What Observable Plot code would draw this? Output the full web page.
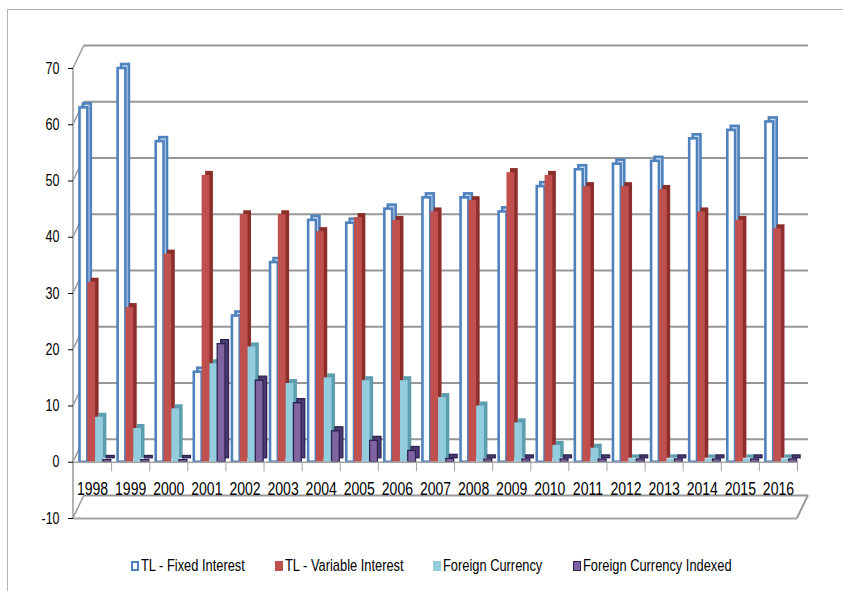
<!DOCTYPE html>
<html><head><meta charset="utf-8">
<script src="https://cdn.jsdelivr.net/npm/d3@7"></script>
<script src="https://cdn.jsdelivr.net/npm/@observablehq/plot@0.6"></script>
<style>
body{margin:0;background:#fff;font-family:"Liberation Sans",Arial,sans-serif;}
#wrap{position:relative;width:843px;height:591px;overflow:hidden;background:#fff;}
#border{position:absolute;left:7px;top:9px;width:900px;height:700px;border-left:1px solid #b4b4b4;border-top:1px solid #b4b4b4;}
#chart{position:absolute;left:0;top:0;}
#legend{position:absolute;top:556px;left:0;width:843px;height:20px;font-size:17px;color:#000;}
.sw{position:absolute;top:5px;width:8px;height:10px;box-sizing:border-box;}
.tx{position:absolute;top:0;height:20px;line-height:20px;white-space:nowrap;transform-origin:0 50%;}
</style></head>
<body>
<div id="wrap"><div id="border"></div><div id="chart"></div><div id="legend"></div></div>
<script>
// ---- data ----
const years = ["1998","1999","2000","2001","2002","2003","2004","2005","2006","2007","2008","2009","2010","2011","2012","2013","2014","2015","2016"];
const series = ["TL - Fixed Interest","TL - Variable Interest","Foreign Currency","Foreign Currency Indexed"];
const fixedInterest    = [63, 70, 57, 16, 26, 35.5, 43, 42.5, 45, 47, 47, 44.5, 49, 52, 53, 53.5, 57.5, 59, 60.5];
const variableInterest = [32, 27.5, 37, 51, 44, 44, 41, 43.5, 43, 44.5, 46.5, 51.5, 51, 49, 49, 48.5, 44.5, 43, 41.5];
const foreignCurrency  = [8, 6, 9.5, 17.5, 20.5, 14, 15, 14.5, 14.5, 11.5, 10, 7, 3, 2.5, 0.6, 0.6, 0.6, 0.6, 0.6];
const fcIndexed        = [0.4, 0.4, 0.4, 21, 14.5, 10.5, 5.5, 3.8, 2, 0.6, 0.5, 0.5, 0.5, 0.5, 0.5, 0.5, 0.5, 0.5, 0.5];
const yTicks = [-10, 0, 10, 20, 30, 40, 50, 60, 70];

const values = [fixedInterest, variableInterest, foreignCurrency, fcIndexed];
const rows = series.flatMap((s, i) => years.map((y, j) => ({year: y, series: s, value: values[i][j]})));

// ---- layout / style ----
const W = 843, H = 540, ML = 73, MR = 46, MT = 68, MB = 22;
const BW = (W - ML - MR) / years.length;
const BAR = 7.8, OFF = 6.5, DX = 3.5, DY = -4;
const DEPTH_X = 11, DEPTH_Y = -23;
const FONT = '"Liberation Sans",Arial,sans-serif';
const colors = ["#4f81bd", "#c0504d", "#93cddd", "#8064a2"];
const styles = [
  {front: {fill: "#ffffff", stroke: "#4f81bd", strokeWidth: 2.6}, back: {fill: "#c6d9f1", stroke: "#4f81bd", strokeWidth: 2.6}},
  {front: {fill: "#c0504d"}, back: {fill: "#8c2f2c"}},
  {front: {fill: "#93cddd"}, back: {fill: "#5c9eae"}},
  {front: {fill: "#8064a2", stroke: "#2b2250", strokeWidth: 1.3}, back: {fill: "#4e3a75", stroke: "#2b2250", strokeWidth: 1.3}}
];

const barMarks = series.flatMap((s, i) => {
  const data = rows.filter(r => r.series === s);
  const insetLeft = OFF + BAR * i, insetRight = Math.max(0, BW - insetLeft - BAR);
  return [
    Plot.barY(data, {x: "year", y: "value", insetLeft, insetRight, dx: DX, dy: DY, ...styles[i].back}),
    Plot.barY(data, {x: "year", y: "value", insetLeft, insetRight, ...styles[i].front})
  ];
});

const plot = Plot.plot({
  width: W, height: H,
  marginLeft: ML, marginRight: MR, marginTop: MT, marginBottom: MB,
  x: {domain: years, padding: 0, round: false, axis: null},
  y: {domain: [-10, 70], ticks: 8, tickSize: 5, tickPadding: 9, label: null, tickFormat: d => String(d)},
  style: {fontFamily: FONT, fontSize: "16px", color: "#000", background: "transparent", overflow: "visible"},
  marks: [
    Plot.ruleY(yTicks, {dx: DEPTH_X, dy: DEPTH_Y, stroke: "#979797", strokeWidth: 2}),
    Plot.ruleY([-10], {stroke: "#a3a3a3", strokeWidth: 2}),
    ...barMarks,
    Plot.ruleY([0], {stroke: "#a3a3a3", strokeWidth: 1.5}),
    Plot.ruleX(years, {x: d => d, y1: 0, y2: -1.7, dx: BW / 2, stroke: "#a3a3a3", strokeWidth: 1}),
    Plot.text(years, {x: d => d, y: () => -4.8, text: d => d, fontSize: 18, fill: "#000"})
  ]
});

// 3D wall edges (decoration) using Plot's own y scale
const ys = plot.scale("y");
const svg = d3.select(plot);
const g = svg.insert("g", ":first-child").attr("stroke", "#9a9a9a").attr("fill", "none");
g.append("line").attr("x1", ML).attr("x2", ML).attr("y1", ys.apply(-10)).attr("y2", ys.apply(70)).attr("stroke-width", 1.5);
for (const v of yTicks) {
  g.append("line").attr("x1", ML).attr("y1", ys.apply(v)).attr("x2", ML + DEPTH_X).attr("y2", ys.apply(v) + DEPTH_Y).attr("stroke-width", 1.5);
}
g.append("line").attr("x1", W - MR).attr("y1", ys.apply(-10)).attr("x2", W - MR + DEPTH_X).attr("y2", ys.apply(-10) + DEPTH_Y).attr("stroke-width", 2);

document.getElementById("chart").appendChild(plot);

// condense text horizontally (Calibri-like narrow look)
svg.selectAll("text").each(function() {
  const w = this.getComputedTextLength();
  if (w > 0) {
    this.setAttribute("textLength", (w * 0.78).toFixed(1));
    this.setAttribute("lengthAdjust", "spacingAndGlyphs");
  }
});

// legend (flowing layout, condensed text)
const legend = document.getElementById("legend");
const SQX = 0.756;
let lx = 131;
series.forEach((s, i) => {
  const sw = document.createElement("div");
  sw.className = "sw";
  sw.style.left = lx + "px";
  if (i === 0) { sw.style.border = "2.5px solid " + colors[0]; sw.style.background = "#fff"; }
  else if (i === 3) { sw.style.background = colors[3]; sw.style.border = "1px solid #2b2250"; }
  else { sw.style.background = colors[i]; }
  legend.appendChild(sw);
  const tx = document.createElement("div");
  tx.className = "tx";
  tx.textContent = s;
  tx.style.left = (lx + 10) + "px";
  tx.style.transform = "scaleX(" + SQX + ")";
  legend.appendChild(tx);
  const w = tx.getBoundingClientRect().width;
  lx += 10 + w + 30;
});
</script>
</body></html>
